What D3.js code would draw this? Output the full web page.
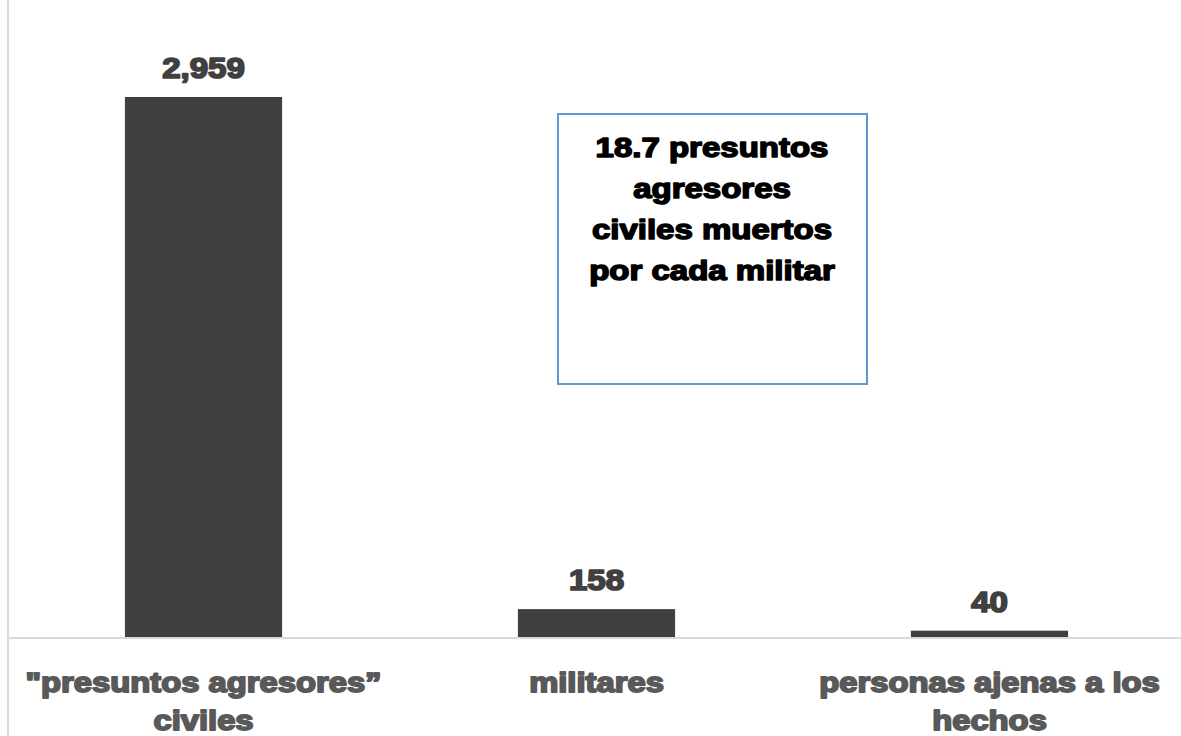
<!DOCTYPE html>
<html>
<head>
<meta charset="utf-8">
<script src="https://cdn.jsdelivr.net/npm/d3@7"></script>
<style>
  html, body { margin: 0; padding: 0; background: #fff; }
  svg { display: block; }
  text { font-family: "Liberation Sans", Arial, sans-serif; font-weight: bold; stroke-linejoin: round; }
</style>
</head>
<body>
<svg id="chart" width="1181" height="736"></svg>
<script>
const categories = ['"presuntos agresores” civiles', 'militares', 'personas ajenas a los hechos'];
const categoryLines = [['"presuntos agresores”', 'civiles'], ['militares'], ['personas ajenas a los', 'hechos']];
const values = [2959, 158, 40];
const valueLabels = ['2,959', '158', '40'];
const noteLines = ['18.7 presuntos', 'agresores', 'civiles muertos', 'por cada militar'];

const W = 1181, H = 736;
const svg = d3.select('#chart');

const x = d3.scaleBand().domain(categories).range([7, 1186]).paddingInner(0.6).paddingOuter(0.3);
const y = d3.scaleLinear().domain([0, 2959]).range([638, 97]);

// left vertical border line
svg.append('line').attr('x1', 8).attr('x2', 8).attr('y1', 0).attr('y2', H)
  .attr('stroke', '#d9d9d9').attr('stroke-width', 2);

// bars
svg.selectAll('rect.bar').data(values).enter().append('rect')
  .attr('class', 'bar')
  .attr('x', (d, i) => x(categories[i]))
  .attr('width', x.bandwidth())
  .attr('y', d => y(d))
  .attr('height', d => y(0) - y(d))
  .attr('fill', '#404040');

// x axis
const axis = svg.append('g').attr('transform', `translate(0,${y(0)})`)
  .call(d3.axisBottom(x).tickSize(0).tickFormat(''));
axis.select('.domain').remove();
axis.append('line').attr('x1', 8).attr('x2', W).attr('y1', 0).attr('y2', 0)
  .attr('stroke', '#d9d9d9').attr('stroke-width', 2);

axis.selectAll('.tick').each(function(d, i) {
  const t = d3.select(this).append('text')
    .attr('text-anchor', 'middle')
    .attr('transform', 'scale(1.17,1)')
    .attr('fill', '#595959')
    .attr('stroke', '#595959').attr('stroke-width', 1.8)
    .attr('font-size', 28);
  categoryLines[i].forEach((ln, j) => {
    t.append('tspan').attr('x', 0).attr('y', 54 + j * 38).text(ln);
  });
});

// value labels
svg.selectAll('text.val').data(values).enter().append('text')
  .attr('class', 'val')
  .attr('transform', (d, i) => `translate(${x(categories[i]) + x.bandwidth() / 2},${y(d) - 19}) scale(1.14,1)`)
  .attr('text-anchor', 'middle')
  .attr('font-size', 29)
  .attr('fill', '#404040')
  .attr('stroke', '#404040').attr('stroke-width', 1.7)
  .text((d, i) => valueLabels[i]);

// note box
svg.append('rect').attr('x', 558).attr('y', 114).attr('width', 309).attr('height', 270)
  .attr('fill', '#fff').attr('stroke', '#5b9bd5').attr('stroke-width', 2);
const note = svg.append('text').attr('text-anchor', 'middle')
  .attr('transform', 'translate(712,0) scale(1.2,1)')
  .attr('font-size', 27.5).attr('fill', '#000').attr('stroke', '#000').attr('stroke-width', 1.5);
noteLines.forEach((ln, j) => {
  note.append('tspan').attr('x', 0).attr('y', 157 + j * 41).text(ln);
});
</script>
</body>
</html>
